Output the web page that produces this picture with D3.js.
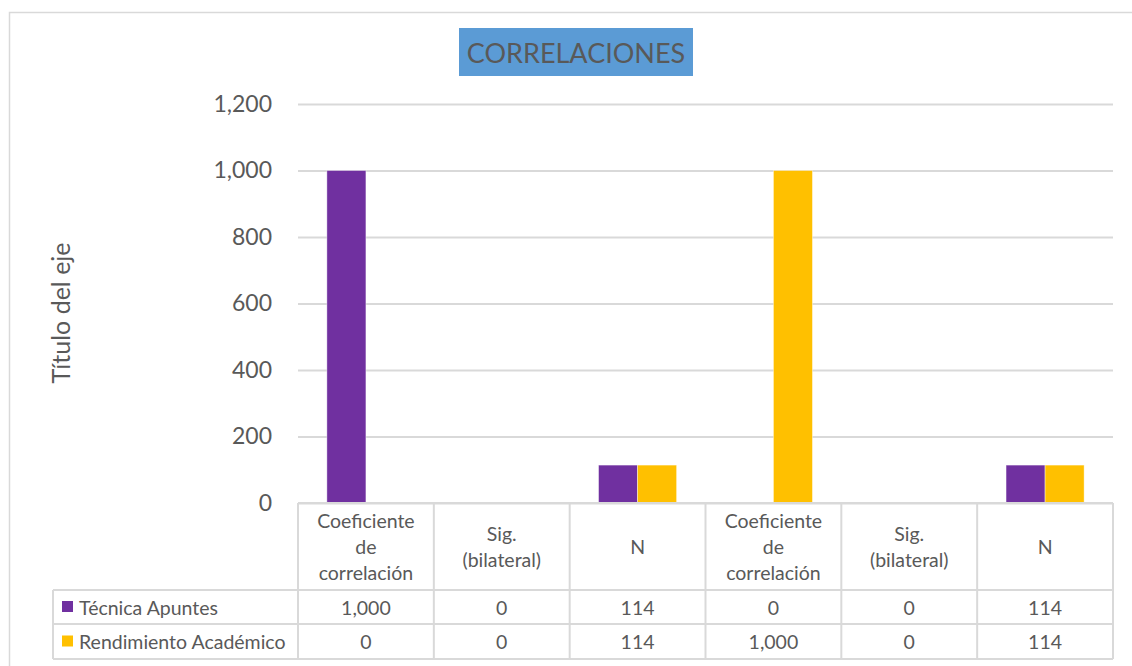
<!DOCTYPE html>
<html><head><meta charset="utf-8">
<script src="https://cdn.jsdelivr.net/npm/d3@7"></script>
<style>
body{margin:0;background:#fff;}
svg{display:block;font-family:Lato,"Open Sans",sans-serif;}
</style></head>
<body><svg id="c" width="1132" height="666"></svg>
<script>
const categories = ["Coeficiente de correlación","Sig. (bilateral)","N","Coeficiente de correlación","Sig. (bilateral)","N"];
const categoryLines = [["Coeficiente","de","correlación"],["Sig.","(bilateral)"],["N"],["Coeficiente","de","correlación"],["Sig.","(bilateral)"],["N"]];
const seriesNames = ["Técnica Apuntes","Rendimiento Académico"];
const tecnicaApuntes = [1000,0,114,0,0,114];
const rendimientoAcademico = [0,0,114,1000,0,114];
const yTicks = [0,200,400,600,800,1000,1200];
const colors = ["#7030A0","#FFC000"];
const chartTitle = "CORRELACIONES";
const yTitle = "Título del eje";

(function(){
const series = [tecnicaApuntes, rendimientoAcademico];
const svg = d3.select("#c");
const textColor = "#595959", lineColor = "#D9D9D9";
const fmt = d3.format(",");

const pL = 298, pR = 1113, pT = 104, pB = 503;
const x0 = d3.scaleBand().domain(d3.range(categories.length)).range([pL,pR]).paddingInner(0).paddingOuter(0);
const x1 = d3.scaleBand().domain(d3.range(series.length)).range([0,x0.bandwidth()]).paddingInner(0).paddingOuter(0.74);
const y = d3.scaleLinear().domain([0,1200]).range([pB,pT]);

svg.append("rect").attr("x",9.5).attr("y",12.5).attr("width",1200).attr("height",700)
  .attr("fill","none").attr("stroke",lineColor).attr("stroke-width",1.5);

const tg = svg.append("g");
tg.append("rect").attr("x",459).attr("y",28).attr("width",234).attr("height",48).attr("fill","#5B9BD5");
tg.append("text").attr("x",576).attr("y",52).attr("text-anchor","middle").attr("dominant-baseline","central")
  .attr("font-size",27).attr("fill",textColor).text(chartTitle);

const yAxis = d3.axisLeft(y).tickValues(yTicks).tickFormat(fmt).tickSize(-(pR-pL)).tickPadding(26);
const ga = svg.append("g").attr("transform",`translate(${pL},0)`).call(yAxis);
ga.select(".domain").remove();
ga.selectAll(".tick line").attr("stroke",lineColor).attr("stroke-width",2);
ga.selectAll(".tick text").attr("fill",textColor).attr("font-size",23).attr("font-family","Lato");

svg.append("text").attr("transform",`translate(60,313) rotate(-90)`).attr("text-anchor","middle")
  .attr("dominant-baseline","central").attr("font-size",25).attr("fill",textColor).text(yTitle);

series.forEach((vals,si)=>{
  svg.append("g").selectAll("rect").data(vals).join("rect")
    .attr("x",(d,i)=>x0(i)+x1(si)).attr("width",x1.bandwidth())
    .attr("y",d=>y(d)).attr("height",d=>y(0)-y(d))
    .attr("fill",colors[si]).attr("stroke","rgba(255,255,255,0.5)").attr("stroke-width",0.8);
});

const rowTops = [503,590,624,659];
const tbl = svg.append("g").attr("stroke",lineColor).attr("stroke-width",2).attr("fill","none");
tbl.append("line").attr("x1",pL).attr("x2",pR).attr("y1",rowTops[0]).attr("y2",rowTops[0]);
[1,2,3].forEach(r=>tbl.append("line").attr("x1",53).attr("x2",pR).attr("y1",rowTops[r]).attr("y2",rowTops[r]));
d3.range(categories.length+1).forEach(i=>{
  const xx = i<categories.length ? x0(i) : pR;
  tbl.append("line").attr("x1",xx).attr("x2",xx).attr("y1",rowTops[0]).attr("y2",rowTops[3]);
});
tbl.append("line").attr("x1",53).attr("x2",53).attr("y1",rowTops[1]).attr("y2",rowTops[3]);

const fs = 19.5;
categoryLines.forEach((lines,i)=>{
  const cx = x0(i)+x0.bandwidth()/2;
  const cy = (rowTops[0]+rowTops[1])/2;
  const lh = 26;
  lines.forEach((ln,k)=>{
    svg.append("text").attr("x",cx).attr("y",cy+(k-(lines.length-1)/2)*lh)
      .attr("text-anchor","middle").attr("dominant-baseline","central")
      .attr("font-size",fs).attr("fill",textColor).text(ln);
  });
});
series.forEach((vals,si)=>{
  const cy = (rowTops[si+1]+rowTops[si+2])/2;
  svg.append("rect").attr("x",62).attr("y",cy-6).attr("width",11).attr("height",11).attr("fill",colors[si]);
  svg.append("text").attr("x",79).attr("y",cy).attr("dominant-baseline","central")
    .attr("font-size",fs).attr("fill",textColor).text(seriesNames[si]);
  vals.forEach((v,i)=>{
    svg.append("text").attr("x",x0(i)+x0.bandwidth()/2).attr("y",cy).attr("text-anchor","middle")
      .attr("dominant-baseline","central").attr("font-size",fs).attr("fill",textColor).text(fmt(v));
  });
});
})();
</script></body></html>
